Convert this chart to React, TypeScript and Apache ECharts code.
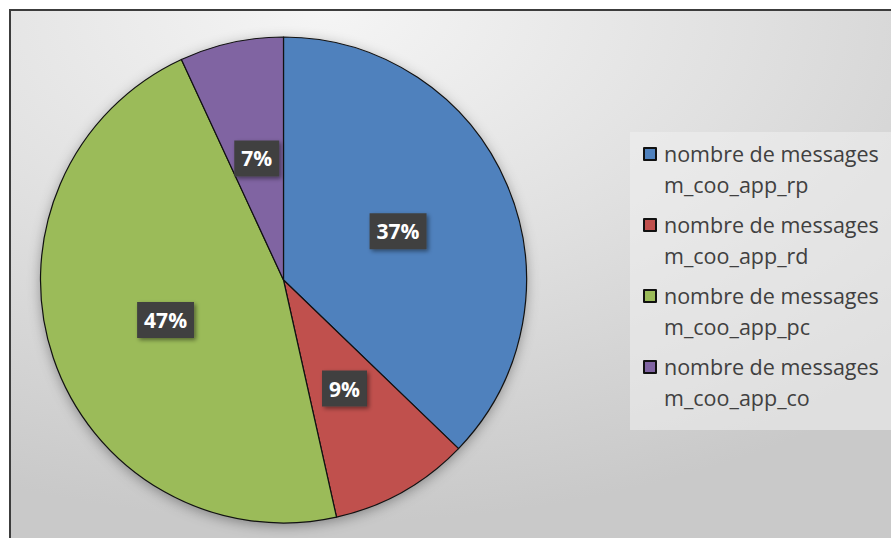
import React, { useEffect, useRef } from "react";
import * as echarts from "echarts";

const categories = [
  "nombre de messages\nm_coo_app_rp",
  "nombre de messages\nm_coo_app_rd",
  "nombre de messages\nm_coo_app_pc",
  "nombre de messages\nm_coo_app_co",
];
const values = [37.2, 9.3, 46.6, 6.9];
const colors = ["#4f81bd", "#c0504d", "#9bbb59", "#8064a2"];

export default function App() {
  const ref = useRef<HTMLDivElement>(null);
  useEffect(() => {
    document.body.style.margin = "0";
    document.body.style.overflow = "hidden";
    const chart = echarts.init(ref.current!, null, { renderer: "svg" });
    chart.setOption({
      animation: false,
      graphic: [
        {
          type: "rect",
          z: 0,
          shape: { x: 10, y: 10, width: 900, height: 540 },
          style: {
            fill: new echarts.graphic.RadialGradient(0.35, 0.0, 0.95, [
              { offset: 0, color: "#f5f5f5" },
              { offset: 0.5, color: "#e0e0e0" },
              { offset: 1, color: "#c9c9c9" },
            ]),
            stroke: "#3c3c3c",
            lineWidth: 2,
          },
        },
      ],
      legend: {
        orient: "vertical",
        left: 630,
        top: 132,
        padding: [6, 30, 17, 13],
        itemWidth: 12,
        itemHeight: 42,
        itemGap: 9,
        icon: "path://M0,0L12,0L12,12L0,12Z M0,42",
        backgroundColor: "rgba(240,240,240,0.55)",
        data: categories,
        textStyle: {
          fontFamily: "Open Sans",
          fontSize: 21.5,
          lineHeight: 31,
          color: "#404040",
          padding: [0, 0, 0, 3],
        },
      },
      series: [
        {
          type: "pie",
          name: "shadow",
          silent: true,
          z: 1,
          center: [283.5, 280],
          radius: [0, 242],
          data: [{ name: "", value: 1 }],
          itemStyle: {
            color: "#999",
            shadowBlur: 14,
            shadowColor: "rgba(0,0,0,0.4)",
            shadowOffsetX: 0,
            shadowOffsetY: 3,
          },
          label: { show: false },
          labelLine: { show: false },
          emphasis: { disabled: true },
          tooltip: { show: false },
        },
        {
          type: "pie",
          z: 2,
          center: [283.5, 280],
          radius: [0, 243],
          startAngle: 90,
          clockwise: true,
          percentPrecision: 0,
          data: categories.map((name, i) => ({
            name,
            value: values[i],
            itemStyle: { color: colors[i] },
          })),
          itemStyle: { borderColor: "#111", borderWidth: 1.2 },
          label: {
            show: true,
            position: "inside",
            formatter: "{d}%",
            color: "#ffffff",
            fontFamily: "Open Sans",
            fontWeight: "bold",
            fontSize: 21,
            backgroundColor: "#404040",
            padding: [9, 7, 6, 7],
            shadowBlur: 4,
            shadowColor: "rgba(0,0,0,0.45)",
            shadowOffsetX: 2,
            shadowOffsetY: 2,
          },
          labelLine: { show: false },
          emphasis: { disabled: true },
        },
      ],
    });
    return () => chart.dispose();
  }, []);
  return (
    <div
      ref={ref}
      style={{ position: "fixed", left: 0, top: 0, width: 891, height: 538, background: "#fff" }}
    />
  );
}
